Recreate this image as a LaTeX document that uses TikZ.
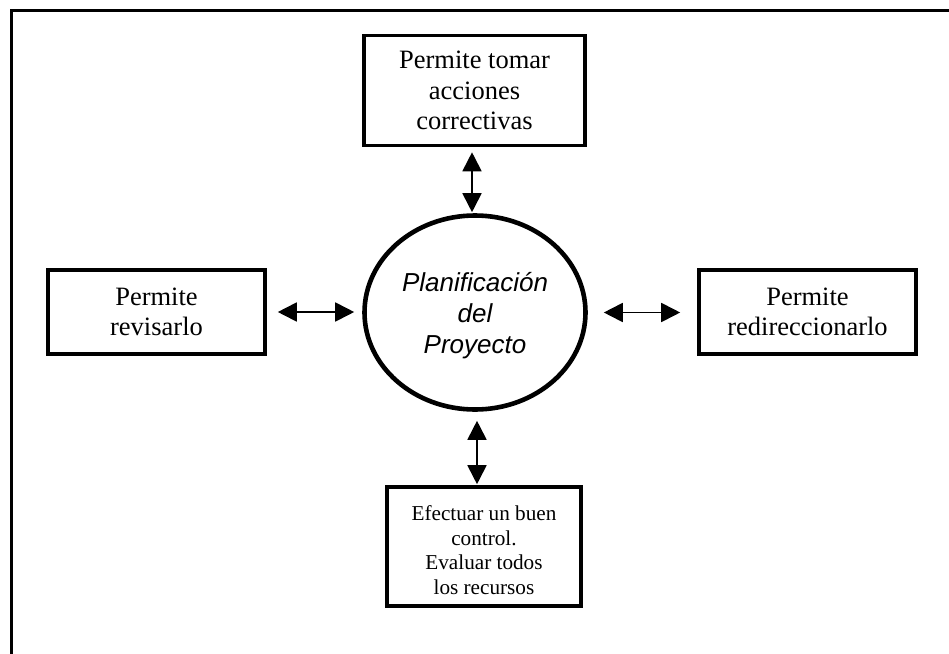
\documentclass[tikz,border=0pt]{standalone}
\usepackage{fontspec}
\setmainfont{Liberation Serif}
\newfontfamily\arialit{Liberation Sans}
\usetikzlibrary{arrows.meta,shapes.geometric}
% centred lines, drawn lowered by #1 while keeping the box's own extent
\newcommand{\loweredlines}[2]{\raisebox{-#1}[\height][\depth]{\begin{tabular}{@{}c@{}}#2\end{tabular}}}
\tikzset{
  infobox/.style={draw, line width=3.6pt, rectangle, align=center, inner sep=0pt,
    font=\fontsize{26.5}{30.5}\selectfont},
  hub/.style={draw, line width=4.6pt, ellipse, inner sep=0pt, align=center,
    minimum width=221pt, minimum height=194pt,
    font=\arialit\itshape\fontsize{26}{31}\selectfont},
  biarrow/.style={line width=1.8pt, {Triangle[length=19pt,width=19pt]}-{Triangle[length=19pt,width=19pt]}},
  frameline/.style={line width=3pt}
}
\begin{document}
\begin{tikzpicture}[x=1pt,y=-1pt]
\useasboundingbox (0,0) rectangle (949,653);
% page frame (only top and left edges visible)
\coordinate (fr-tl) at (11.5,10);
\coordinate (fr-tr) at (952,10);
\coordinate (fr-bl) at (11.5,656);
\draw[frameline] (fr-tr) -- (fr-tl) -- (fr-bl);

% central ellipse
\node[hub] (plan) at (475,312.5)
  {\loweredlines{4pt}{Planificación\\del\\Proyecto}};

% surrounding boxes
\node[infobox, minimum width=221pt, minimum height=110pt] (top) at (474.5,90.5)
  {Permite tomar\\acciones\\correctivas};
\node[infobox, minimum width=217pt, minimum height=84pt] (left) at (156.5,312)
  {Permite\\revisarlo};
\node[infobox, minimum width=217pt, minimum height=84pt] (right) at (807.5,312)
  {Permite\\redireccionarlo};
\node[infobox, minimum width=194pt, minimum height=119pt,
      font=\fontsize{21.2}{24.5}\selectfont] (bottom) at (484,546.5)
  {\loweredlines{6pt}{Efectuar un buen\\control.\\Evaluar todos\\los recursos}};

% two-way connectors
\draw[biarrow, shorten <=5pt, shorten >=1pt]
  ([xshift=-2.5pt]top.south) -- ([xshift=-2.5pt]top.south |- plan.north);
\draw[biarrow, shorten <=11pt, shorten >=8pt]
  (left.east) -- (left.east -| plan.west);
\draw[biarrow, shorten <=16pt, shorten >=17pt]
  (plan.east) -- (plan.east -| right.west);
\draw[biarrow, shorten <=9pt, shorten >=1pt]
  ([xshift=2pt]plan.south) -- ([xshift=2pt]plan.south |- bottom.north);
\end{tikzpicture}
\end{document}
